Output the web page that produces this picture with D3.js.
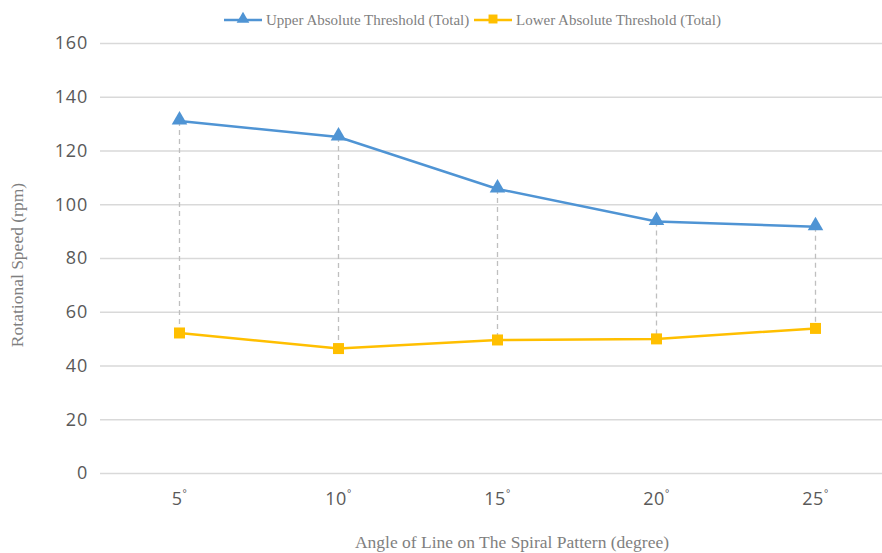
<!DOCTYPE html>
<html>
<head>
  <meta charset='utf-8'>
  <script src='https://cdn.jsdelivr.net/npm/d3@7/dist/d3.min.js'></script>
  <style>
    body { margin: 0; background: #fff; }
    #chart { width: 882px; height: 553px; }
  </style>
</head>
<body>
  <div id='chart'></div>
  <script>
    // data
    var angles = ['5', '10', '15', '20', '25'];
    var upperValues = [131, 125, 105.7, 93.6, 91.6];
    var lowerValues = [52.1, 46.3, 49.5, 49.9, 53.8];
    var yTicks = [0, 20, 40, 60, 80, 100, 120, 140, 160];
    var seriesNames = ['Upper Absolute Threshold (Total)', 'Lower Absolute Threshold (Total)'];

    var width = 882, height = 553;
    var blue = '#4f94d4', gold = '#ffbf00';

    var svg = d3.select('#chart').append('svg')
      .attr('width', width)
      .attr('height', height);

    var x = d3.scaleBand()
      .domain(angles)
      .range([100, 895]);

    var y = d3.scaleLinear()
      .domain([0, 160])
      .range([473, 43]);

    // gridlines + y labels
    var yAxis = svg.append('g')
      .attr('transform', 'translate(100,0)')
      .call(d3.axisLeft(y).tickValues(yTicks).tickSize(-795).tickPadding(12));
    yAxis.select('.domain').remove();
    yAxis.selectAll('.tick line').attr('stroke', '#d9d9d9').attr('stroke-width', 1.5);
    yAxis.selectAll('.tick text')
      .attr('fill', '#595959')
      .style('font-family', '"Open Sans", sans-serif')
      .style('font-size', '18px')
      .style('letter-spacing', '0.8px');

    // x labels
    var xAxis = svg.append('g')
      .attr('transform', 'translate(0,473)')
      .call(d3.axisBottom(x).tickSize(0).tickPadding(0).tickFormat(''));
    xAxis.select('.domain').remove();
    xAxis.selectAll('.tick text').remove();
    xAxis.selectAll('.tick').append('text')
      .attr('y', 32)
      .attr('text-anchor', 'middle')
      .attr('fill', '#595959')
      .style('font-family', '"Open Sans", sans-serif')
      .style('font-size', '18px')
      .style('letter-spacing', '0.5px')
      .each(function(d) {
        var t = d3.select(this);
        t.append('tspan').text(d);
        t.append('tspan').attr('dy', -8).style('font-size', '10px').text('\u00b0');
      });

    var cx = function(i) { return x(angles[i]) + x.bandwidth() / 2; };

    // dashed drop lines
    svg.selectAll('.drop')
      .data(angles)
      .enter().append('line')
      .attr('x1', function(d, i) { return cx(i); })
      .attr('x2', function(d, i) { return cx(i); })
      .attr('y1', function(d, i) { return y(upperValues[i]); })
      .attr('y2', function(d, i) { return y(lowerValues[i]); })
      .attr('stroke', '#bfbfbf')
      .attr('stroke-width', 1.3)
      .attr('stroke-dasharray', '5,4');

    var line = d3.line()
      .x(function(d, i) { return cx(i); })
      .y(function(d) { return y(d); });

    svg.append('path').datum(upperValues)
      .attr('d', line).attr('fill', 'none')
      .attr('stroke', blue).attr('stroke-width', 2.5);
    svg.append('path').datum(lowerValues)
      .attr('d', line).attr('fill', 'none')
      .attr('stroke', gold).attr('stroke-width', 2.5);

    var tri = d3.symbol().type(d3.symbolTriangle).size(105);
    svg.selectAll('.up')
      .data(upperValues)
      .enter().append('path')
      .attr('d', tri)
      .attr('transform', function(d, i) { return 'translate(' + cx(i) + ',' + (y(d) - 1) + ')'; })
      .attr('fill', blue);

    svg.selectAll('.low')
      .data(lowerValues)
      .enter().append('rect')
      .attr('x', function(d, i) { return cx(i) - 5.5; })
      .attr('y', function(d) { return y(d) - 5.5; })
      .attr('width', 11).attr('height', 11)
      .attr('fill', gold);

    // axis titles
    svg.append('text')
      .attr('x', 512).attr('y', 548)
      .attr('text-anchor', 'middle')
      .attr('fill', '#7f7f7f')
      .style('font-family', '"Liberation Serif", serif')
      .style('font-size', '17.5px')
      .text('Angle of Line on The Spiral Pattern (degree)');

    svg.append('text')
      .attr('transform', 'translate(23,265) rotate(-90)')
      .attr('text-anchor', 'middle')
      .attr('fill', '#7f7f7f')
      .style('font-family', '"Liberation Serif", serif')
      .style('font-size', '17.5px')
      .text('Rotational Speed (rpm)');

    // legend
    var legendX = [224, 474];
    var legend = svg.selectAll('.legend')
      .data(seriesNames)
      .enter().append('g')
      .attr('transform', function(d, i) { return 'translate(' + legendX[i] + ',20)'; });
    legend.append('line')
      .attr('x1', 0).attr('x2', 38)
      .attr('stroke', function(d, i) { return i === 0 ? blue : gold; })
      .attr('stroke-width', 2.5);
    legend.append('path')
      .attr('d', function(d, i) {
        return d3.symbol().type(i === 0 ? d3.symbolTriangle : d3.symbolSquare).size(i === 0 ? 70 : 80)();
      })
      .attr('transform', 'translate(19,-1)')
      .attr('fill', function(d, i) { return i === 0 ? blue : gold; });
    legend.append('text')
      .attr('x', 42).attr('y', 5)
      .attr('fill', '#7f7f7f')
      .style('font-family', '"Liberation Serif", serif')
      .style('font-size', '15px')
      .text(function(d) { return d; });
  </script>
</body>
</html>
